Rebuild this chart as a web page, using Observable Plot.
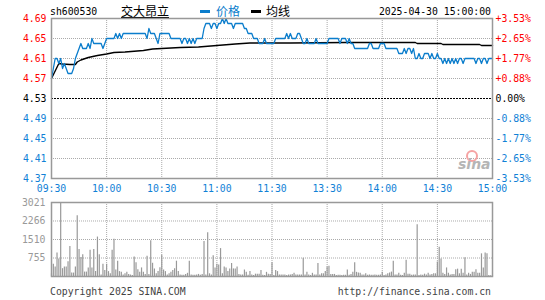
<!DOCTYPE html>
<html><head><meta charset="utf-8">
<script src="https://cdn.jsdelivr.net/npm/d3@7"></script>
<script src="https://cdn.jsdelivr.net/npm/@observablehq/plot@0.6"></script>
<style>
body{margin:0;background:#fff;}
#wrap{position:relative;width:545px;height:300px;overflow:hidden;}
.abs{position:absolute;white-space:nowrap;}
.mono{font-family:"DejaVu Sans Mono",monospace;font-size:9.8px;line-height:10px;}
.cjk{font-family:"Noto Sans CJK SC",sans-serif;font-size:12px;line-height:12px;}
#price,#vol{position:absolute;left:0;}
#price{top:0;} #vol{top:190px;}
</style></head><body>
<div id="wrap">
  <div class="abs mono" style="left:50px;top:6.5px;color:#000">sh600530</div>
  <div class="abs cjk" style="left:121px;top:4.5px;color:#000;text-decoration:underline">交大昂立</div>
  <div class="abs" style="left:200px;top:10px;width:10px;height:3px;background:#0b7dcc"></div>
  <div class="abs cjk" style="left:216px;top:4.5px;color:#0b7dcc">价格</div>
  <div class="abs" style="left:251px;top:10px;width:10px;height:3px;background:#000"></div>
  <div class="abs cjk" style="left:266px;top:4.5px;color:#000">均线</div>
  <div class="abs mono" style="right:54px;top:6.5px;color:#000">2025-04-30 15:00:00</div>
  <div id="price"></div>
  <div id="vol"></div>
  <div class="abs" style="left:466px;top:150px;width:8px;height:8px;border-radius:50%;border:2px solid #f5a3a3;"></div>
  <div class="abs" style="left:458px;top:157px;font-family:'DejaVu Sans',sans-serif;font-style:italic;font-weight:bold;font-size:14px;line-height:14px;color:#b5b5b5;">sina</div>
  <div class="abs mono" style="left:50px;top:286.5px;color:#444">Copyright 2025 SINA.COM</div>
  <div class="abs mono" style="right:54px;top:286.5px;color:#444">http://finance.sina.com.cn</div>
</div>
<script>
const prevClose = 4.53;
const prices = [
4.57,4.59,4.61,4.61,4.60,4.61,4.59,4.60,4.59,4.58,
4.58,4.58,4.59,4.61,4.62,4.63,4.64,4.63,4.63,4.63,
4.64,4.63,4.65,4.64,4.64,4.64,4.64,4.64,4.63,4.64,
4.65,4.65,4.65,4.65,4.65,4.66,4.65,4.66,4.65,4.66,
4.66,4.66,4.66,4.66,4.66,4.66,4.66,4.66,4.66,4.66,
4.66,4.66,4.65,4.67,4.66,4.66,4.66,4.65,4.64,4.66,
4.66,4.66,4.66,4.66,4.66,4.65,4.65,4.65,4.65,4.65,
4.65,4.64,4.65,4.65,4.64,4.65,4.64,4.65,4.64,4.65,
4.65,4.65,4.65,4.67,4.68,4.68,4.68,4.67,4.68,4.68,
4.67,4.68,4.68,4.69,4.68,4.69,4.68,4.68,4.68,4.67,
4.68,4.68,4.68,4.68,4.68,4.67,4.67,4.66,4.66,4.66,
4.65,4.65,4.65,4.64,4.64,4.64,4.65,4.64,4.64,4.64,
4.64,4.64,4.65,4.65,4.65,4.65,4.65,4.65,4.66,4.65,
4.66,4.65,4.65,4.65,4.66,4.66,4.65,4.64,4.64,4.65,
4.64,4.64,4.64,4.64,4.65,4.64,4.64,4.64,4.64,4.64,
4.64,4.65,4.65,4.65,4.65,4.65,4.65,4.64,4.65,4.65,
4.65,4.64,4.65,4.64,4.64,4.63,4.63,4.63,4.63,4.63,
4.63,4.63,4.63,4.64,4.64,4.63,4.63,4.63,4.63,4.64,
4.64,4.64,4.63,4.63,4.63,4.63,4.63,4.63,4.63,4.62,
4.62,4.62,4.63,4.62,4.63,4.63,4.62,4.63,4.61,4.61,
4.62,4.61,4.61,4.62,4.62,4.62,4.61,4.62,4.61,4.61,
4.62,4.61,4.61,4.60,4.61,4.60,4.61,4.60,4.61,4.60,
4.61,4.60,4.61,4.61,4.60,4.61,4.61,4.61,4.61,4.61,
4.61,4.60,4.61,4.61,4.60,4.61,4.61,4.60,4.61,4.61,
4.61];
const avgMinutes = [0,2,4,6,10,13,14,16,20,25,30,34,40,50,55,60,70,80,90,100,108,130,160,198,199,212,213,233,234,240];
const avgValues  = [4.570,4.585,4.600,4.599,4.598,4.598,4.603,4.607,4.612,4.616,4.619,4.622,4.623,4.626,4.629,4.630,4.632,4.633,4.636,4.639,4.641,4.641,4.642,4.642,4.640,4.640,4.638,4.638,4.636,4.636];
const volumes = [
110,500,385,960,710,3021,320,385,385,600,
1220,140,140,385,2480,1100,780,890,180,180,
350,1070,350,1100,200,1610,890,60,500,240,
500,200,110,1070,1520,265,625,200,170,60,
110,170,85,60,40,800,565,275,170,350,
170,85,830,85,1460,540,310,110,200,360,
865,265,200,60,110,170,240,320,625,200,
60,50,50,85,130,625,60,50,50,60,
85,50,85,1430,60,1790,110,60,850,350,
500,470,1140,110,385,350,200,310,530,310,
310,385,85,60,60,265,170,50,200,60,
40,95,95,95,240,50,40,170,95,85,
565,40,240,200,60,60,60,60,40,60,
60,85,130,60,60,60,60,745,60,170,
60,40,130,60,60,530,60,110,110,200,
385,420,85,85,85,40,50,50,40,50,
50,265,50,85,170,565,170,140,130,60,
60,110,50,60,50,50,60,50,50,60,
170,40,60,110,140,180,625,60,60,130,
50,40,130,660,95,95,50,60,60,2110,
40,60,50,95,60,130,60,85,110,110,
590,1190,710,130,85,350,130,60,85,85,
275,300,110,300,130,770,60,130,85,170,
170,275,130,130,925,350,960,925,40,30,
20];
const priceTicks = [4.37,4.41,4.45,4.49,4.53,4.57,4.61,4.65,4.69];
const pctLabels = ["-3.53%","-2.65%","-1.77%","-0.88%","0.00%","+0.88%","+1.77%","+2.65%","+3.53%"];
const timeMinutes = [0,30,60,90,120,150,180,210,240];
const timeLabels = ["09:30","10:00","10:30","11:00","11:30","13:30","14:00","14:30","15:00"];
const volTicks = [755,1510,2266,3021];

const RED = "#ff0000", BLUE = "#1081d6", LINE = "#0b7dcc";
const colorOf = v => Math.abs(v - prevClose) < 1e-9 ? "#000" : (v > prevClose ? RED : BLUE);
const gridMinutes = timeMinutes.slice(1, -1);
const gridPrices = priceTicks.slice(1, -1).filter(v => Math.abs(v - prevClose) > 1e-9);
const timeData = timeMinutes.map((m, i) => ({m, label: timeLabels[i]}));
const pctData = priceTicks.map((v, i) => ({v, label: pctLabels[i]}));
const avgData = avgMinutes.map((m, i) => ({m, v: avgValues[i]}));

const fontStyle = {fontFamily: "DejaVu Sans Mono, monospace", fontSize: "9.8px", background: "transparent", overflow: "visible"};

const pricePlot = Plot.plot({
  width: 545, height: 196,
  marginTop: 18, marginBottom: 18, marginLeft: 51, marginRight: 53,
  x: {domain: [0, 240], axis: null},
  y: {domain: [4.37, 4.69], axis: null},
  color: {type: "identity"},
  style: fontStyle,
  marks: [
    Plot.ruleY(gridPrices, {y: d => d, stroke: "#aaa", strokeDasharray: "1,1"}),
    Plot.ruleX(gridMinutes, {x: d => d, stroke: "#aaa", strokeDasharray: "1,1"}),
    Plot.ruleY([prevClose], {y: d => d, stroke: "#000", strokeDasharray: "2,1"}),
    Plot.line(avgData, {x: "m", y: "v", stroke: "#000", strokeWidth: 1.4}),
    Plot.lineY(prices, {x: (d, i) => i, y: d => d, stroke: LINE, strokeWidth: 1.3}),
    Plot.frame({stroke: "#999", strokeWidth: 1.5}),
    Plot.text(priceTicks, {y: d => d, text: d => d.toFixed(2), frameAnchor: "left", textAnchor: "end", lineAnchor: "middle", dx: -5, fill: d => colorOf(d)}),
    Plot.text(pctData, {y: "v", text: "label", frameAnchor: "right", textAnchor: "start", lineAnchor: "middle", dx: 3, fill: d => colorOf(d.v)}),
    Plot.text(timeData, {x: "m", text: "label", frameAnchor: "bottom", lineAnchor: "middle", dy: 10, fill: BLUE})
  ]
});
document.getElementById("price").appendChild(pricePlot);

const volPlot = Plot.plot({
  width: 545, height: 100,
  marginTop: 12, marginBottom: 14, marginLeft: 51, marginRight: 53,
  x: {domain: [0, 240], axis: null},
  y: {domain: [0, 3021], axis: null},
  style: fontStyle,
  marks: [
    Plot.ruleY(volTicks.slice(0, -1), {y: d => d, stroke: "#aaa", strokeDasharray: "1,1"}),
    Plot.ruleX(gridMinutes, {x: d => d, stroke: "#aaa", strokeDasharray: "1,1"}),
    Plot.ruleX(volumes, {x: (d, i) => i, y1: 0, y2: d => d, stroke: "#999", strokeWidth: 1.2}),
    Plot.frame({stroke: "#999", strokeWidth: 1.5}),
    Plot.text(volTicks, {y: d => d, text: d => String(d), frameAnchor: "left", textAnchor: "end", lineAnchor: "middle", dx: -6, fill: "#999"})
  ]
});
document.getElementById("vol").appendChild(volPlot);
</script>
</body></html>
